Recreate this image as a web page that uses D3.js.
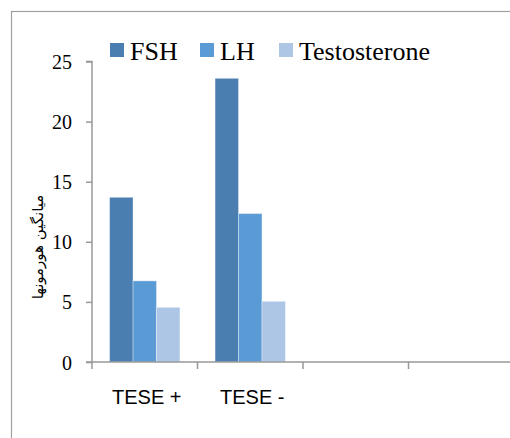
<!DOCTYPE html>
<html><head><meta charset="utf-8">
<script src="https://cdn.jsdelivr.net/npm/d3@7"></script>
<style>body{margin:0;background:#fff}svg{display:block}
.serif{font-family:"Liberation Serif","Tinos","Times New Roman","DejaVu Serif","Noto Serif",serif}
.sans{font-family:"Liberation Sans",Arial,sans-serif}
</style>
</head><body>
<svg id="c" width="510" height="438"></svg>
<script>
const categories = ["TESE +", "TESE -", "", ""];
const seriesNames = ["FSH", "LH", "Testosterone"];
const fshValues = [13.7, 23.6];
const lhValues = [6.75, 12.35];
const testosteroneValues = [4.55, 5.05];
const yTicks = [0, 5, 10, 15, 20, 25];
const yTitle = "میانگین هورمونها";
const colors = ["#4a7eb0", "#5b9bd5", "#adc6e6"];

const series = [fshValues, lhValues, testosteroneValues];
const svg = d3.select("#c");
// outer frame
svg.append("rect").attr("x", 11.5).attr("y", 11.5).attr("width", 520).attr("height", 440)
  .attr("fill", "none").attr("stroke", "#a0a0a0").attr("stroke-width", 1.2);

const x0 = 92, x1 = 514, yTop = 61.5, yBot = 362;
const x = d3.scaleBand().domain(d3.range(categories.length)).range([x0, x1]).paddingInner(0).paddingOuter(0);
const y = d3.scaleLinear().domain([0, 25]).range([yBot, yTop]);
const inner = d3.scaleBand().domain(d3.range(3)).range([0, x.bandwidth()]).paddingOuter(0.75).paddingInner(0);

// bars
series.forEach((vals, si) => {
  svg.append("g").selectAll("rect").data(vals).join("rect")
    .attr("x", (d, i) => x(i) + inner(si))
    .attr("y", d => y(d))
    .attr("width", inner.bandwidth())
    .attr("height", d => y(0) - y(d))
    .attr("fill", colors[si])
    .attr("stroke", "#ffffff").attr("stroke-opacity", 0.35).attr("stroke-width", 1);
});

// y axis
const yAxis = d3.axisLeft(y).tickValues(yTicks).tickSize(6).tickPadding(14).tickFormat(d3.format("d"));
const gy = svg.append("g").attr("transform", `translate(${x0},0)`).call(yAxis);
gy.attr("font-family", null).attr("font-size", null);
gy.select(".domain").attr("stroke", "#999").attr("stroke-width", 1.5).attr("d", `M-6,${yTop}H0V${yBot}`);
gy.selectAll(".tick line").attr("stroke", "#999").attr("stroke-width", 1.5);
gy.selectAll(".tick text").attr("class", "serif").style("font-size", "20px").attr("fill", "#000").attr("dy", "0.35em");

// x axis
const xAxis = d3.axisBottom(x).tickSize(0).tickFormat(i => categories[i]);
const gx = svg.append("g").attr("transform", `translate(0,${yBot})`).call(xAxis);
gx.attr("font-family", null).attr("font-size", null);
gx.select(".domain").attr("stroke", "#999").attr("stroke-width", 1.5).attr("d", `M86,0H514`);
gx.selectAll(".tick text").attr("class", "sans").style("font-size", "20px").attr("fill", "#000")
  .attr("y", 28).attr("dx", 2);
// category boundary ticks
svg.append("g").selectAll("line").data(d3.range(categories.length)).join("line")
  .attr("x1", i => x(i)).attr("x2", i => x(i)).attr("y1", yBot).attr("y2", yBot + 7)
  .attr("stroke", "#999").attr("stroke-width", 1.5);

// y title
svg.append("text").attr("transform", `translate(43,${247}) rotate(-90)`)
  .attr("text-anchor", "middle").style("font-family", "'DejaVu Serif','DejaVu Sans',serif").style("font-size", "15px")
  .attr("direction", "rtl").text(yTitle);

// legend
const legendX = [110, 200, 279];
const lg = svg.append("g").selectAll("g").data(seriesNames).join("g")
  .attr("transform", (d, i) => `translate(${legendX[i]},43)`);
lg.append("rect").attr("width", 14).attr("height", 14).attr("fill", (d, i) => colors[i]);
lg.append("text").attr("class", "serif").attr("x", 20).attr("y", 17)
  .style("font-size", "26px").attr("fill", "#000").text(d => d);
</script>
</body></html>
